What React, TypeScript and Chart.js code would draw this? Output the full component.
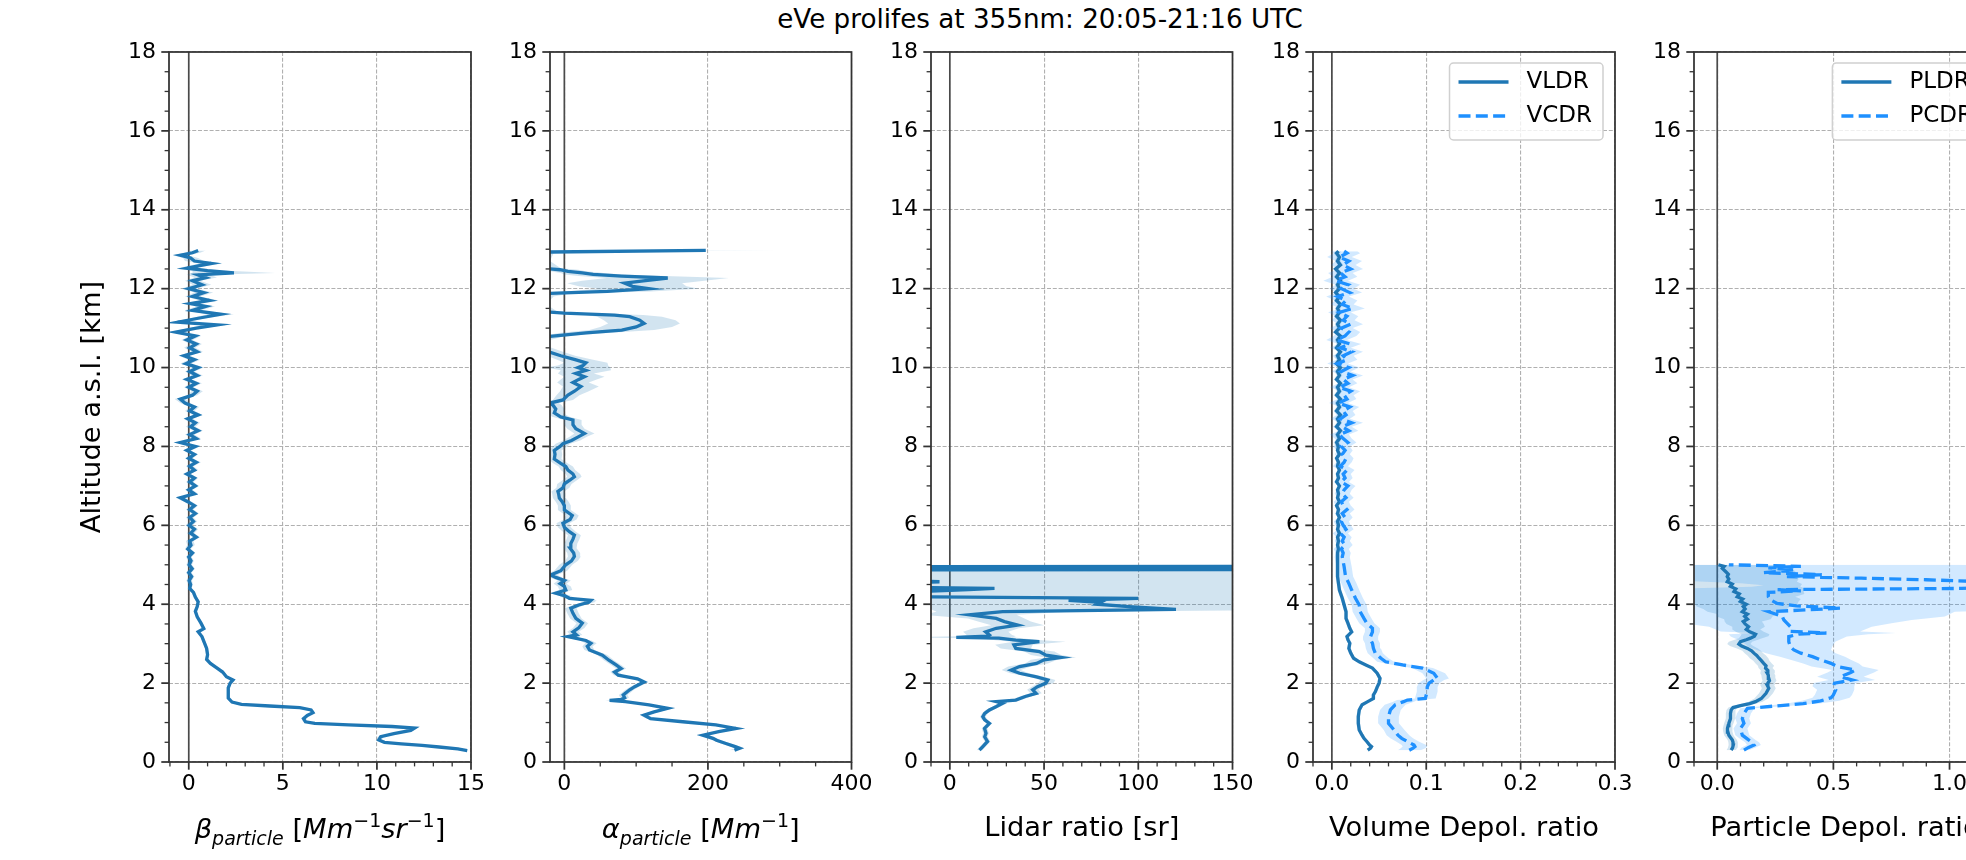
import React, { useEffect, useRef } from "react";
import { Chart, registerables } from "chart.js";

Chart.register(...registerables);

const FONT = '"DejaVu Sans", "Liberation Sans", sans-serif';

// ---------------- text ----------------
const FIG_TITLE = "eVe prolifes at 355nm: 20:05-21:16 UTC";
const Y_LABEL = "Altitude a.s.l. [km]";
const LR_LABEL = "Lidar ratio [sr]";
const VDR_LABEL = "Volume Depol. ratio";
const PDR_LABEL = "Particle Depol. ratio";
type Seg = { t: string; it?: boolean; sub?: boolean; sup?: boolean };
const BETA_LABEL: Seg[] = [
  { t: "β", it: true }, { t: "particle", it: true, sub: true }, { t: " [" },
  { t: "Mm", it: true }, { t: "−1", sup: true }, { t: "sr", it: true }, { t: "−1", sup: true }, { t: "]" },
];
const ALPHA_LABEL: Seg[] = [
  { t: "α", it: true }, { t: "particle", it: true, sub: true }, { t: " [" },
  { t: "Mm", it: true }, { t: "−1", sup: true }, { t: "]" },
];
const VDR_NAMES = ["VLDR", "VCDR"];
const PDR_NAMES = ["PLDR", "PCDR"];

// ---------------- ticks ----------------
const ALT_TICKS = [0, 2, 4, 6, 8, 10, 12, 14, 16, 18];
const ALT_TICK_LABELS = ["0", "2", "4", "6", "8", "10", "12", "14", "16", "18"];
const BETA_TICKS = [0, 5, 10, 15];
const BETA_TICK_LABELS = ["0", "5", "10", "15"];
const ALPHA_TICKS = [0, 200, 400];
const ALPHA_TICK_LABELS = ["0", "200", "400"];
const LR_TICKS = [0, 50, 100, 150];
const LR_TICK_LABELS = ["0", "50", "100", "150"];
const VDR_TICKS = [0, 0.1, 0.2, 0.3];
const VDR_TICK_LABELS = ["0.0", "0.1", "0.2", "0.3"];
const PDR_TICKS = [0, 0.5, 1.0];
const PDR_TICK_LABELS = ["0.0", "0.5", "1.0"];

// ---------------- data: rows of [altitude km, value, uncertainty] ----------------
const BETA: number[][] = [
  [0.29, 14.8, 0.15], [0.33, 14.3, 0.15], [0.38, 13.3, 0.15], [0.42, 12.4, 0.15], [0.46, 11.3, 0.15], [0.5, 10.4, 0.15],
  [0.56, 10.1, 0.15], [0.64, 10.2, 0.15], [0.72, 10.9, 0.15], [0.8, 11.8, 0.15], [0.86, 12.0, 0.15], [0.9, 10.8, 0.15],
  [0.94, 8.5, 0.15], [0.98, 6.7, 0.12], [1.02, 6.2, 0.12], [1.1, 6.1, 0.12], [1.18, 6.3, 0.12], [1.25, 6.6, 0.12],
  [1.32, 6.5, 0.12], [1.38, 5.9, 0.12], [1.42, 4.3, 0.1], [1.46, 2.8, 0.1], [1.52, 2.3, 0.1], [1.62, 2.1, 0.08],
  [1.75, 2.1, 0.08], [1.88, 2.1, 0.08], [2.0, 2.2, 0.08], [2.08, 2.35, 0.08], [2.16, 2.0, 0.08], [2.28, 1.8, 0.08],
  [2.4, 1.45, 0.08], [2.5, 1.15, 0.08], [2.6, 0.95, 0.08], [2.72, 1.0, 0.08], [2.88, 0.95, 0.08], [3.0, 0.85, 0.08],
  [3.18, 0.7, 0.08], [3.3, 0.5, 0.08], [3.38, 0.8, 0.08], [3.52, 0.65, 0.08], [3.68, 0.45, 0.08], [3.82, 0.35, 0.08],
  [3.94, 0.45, 0.08], [4.06, 0.5, 0.08], [4.18, 0.35, 0.1], [4.3, 0.25, 0.1], [4.4, 0.05, 0.1], [4.5, 0.1, 0.12],
  [4.6, 0.02, 0.15], [4.7, 0.15, 0.15], [4.8, 0.0, 0.15], [4.9, 0.18, 0.15], [5.0, 0.02, 0.15], [5.1, 0.12, 0.15],
  [5.2, 0.0, 0.15], [5.3, 0.2, 0.15], [5.4, -0.05, 0.15], [5.5, 0.12, 0.2], [5.6, 0.05, 0.2], [5.7, 0.4, 0.2],
  [5.8, 0.1, 0.2], [5.9, 0.3, 0.2], [6.0, 0.02, 0.2], [6.1, 0.25, 0.2], [6.2, 0.05, 0.2], [6.3, 0.35, 0.2],
  [6.4, 0.05, 0.2], [6.5, 0.3, 0.2], [6.6, -0.05, 0.2], [6.7, -0.45, 0.25], [6.8, 0.3, 0.2], [6.9, 0.0, 0.2],
  [7.0, 0.35, 0.2], [7.1, 0.05, 0.2], [7.2, 0.3, 0.2], [7.3, -0.1, 0.2], [7.4, 0.3, 0.2], [7.5, 0.05, 0.2],
  [7.6, 0.4, 0.25], [7.7, 0.0, 0.2], [7.8, 0.3, 0.2], [7.9, -0.1, 0.2], [8.0, 0.35, 0.25], [8.1, -0.45, 0.25],
  [8.2, 0.4, 0.25], [8.3, 0.05, 0.25], [8.4, 0.5, 0.25], [8.5, 0.1, 0.25], [8.6, 0.35, 0.25], [8.7, -0.05, 0.25],
  [8.8, 0.5, 0.25], [8.9, 0.05, 0.25], [9.0, 0.3, 0.25], [9.1, -0.2, 0.25], [9.2, -0.45, 0.3], [9.3, 0.2, 0.25],
  [9.4, 0.45, 0.3], [9.5, 0.0, 0.25], [9.6, 0.4, 0.3], [9.7, -0.1, 0.25], [9.8, 0.45, 0.3], [9.9, 0.05, 0.25],
  [10.0, 0.5, 0.3], [10.1, -0.15, 0.3], [10.2, 0.3, 0.3], [10.3, -0.25, 0.3], [10.4, 0.45, 0.3], [10.5, 0.05, 0.3],
  [10.6, 0.4, 0.3], [10.7, -0.1, 0.3], [10.8, 0.35, 0.3], [10.9, -0.7, 0.35], [11.0, 0.4, 0.35], [11.08, 1.5, 0.5],
  [11.15, -0.6, 0.4], [11.25, 0.5, 0.4], [11.35, 1.7, 0.7], [11.45, 0.2, 0.4], [11.55, 0.9, 0.5], [11.62, 0.1, 0.4],
  [11.7, 1.1, 0.5], [11.8, 0.2, 0.4], [11.9, 0.8, 0.5], [12.0, 0.0, 0.4], [12.1, 0.7, 0.5], [12.2, 0.2, 0.4],
  [12.28, 0.9, 0.6], [12.35, 0.5, 0.6], [12.4, 2.4, 2.2], [12.46, 1.0, 0.8], [12.52, -0.1, 0.5], [12.58, 0.5, 0.5],
  [12.64, 1.2, 0.6], [12.7, 0.3, 0.5], [12.78, 0.1, 0.4], [12.85, -0.45, 0.4], [12.91, 0.2, 0.4], [12.97, 0.5, 0.4],
];

const ALPHA: number[][] = [
  [0.3, 237, 7], [0.35, 244, 7], [0.39, 238, 7], [0.47, 225, 7], [0.55, 212, 6], [0.6, 207, 6], [0.68, 193, 6],
  [0.77, 215, 6], [0.85, 239, 6], [0.94, 211, 6], [1.02, 165, 6], [1.1, 120, 6], [1.19, 111, 6], [1.27, 125, 6],
  [1.36, 144, 8], [1.45, 118, 6], [1.53, 85, 6], [1.56, 63, 6], [1.59, 80, 6], [1.63, 84, 6], [1.7, 82, 6],
  [1.83, 91, 6], [1.91, 98, 6], [2.03, 111, 6], [2.11, 102, 6], [2.2, 75, 6], [2.28, 70, 6], [2.37, 79, 7],
  [2.46, 72, 7], [2.58, 62, 7], [2.71, 53, 7], [2.84, 35, 7], [2.93, 32, 7], [3.01, 37, 8], [3.08, 30, 8],
  [3.14, 15, 8], [3.18, 5, 8], [3.22, 17, 8], [3.3, 12, 8], [3.4, 20, 8], [3.52, 25, 8], [3.64, 16, 8],
  [3.77, 12, 8], [3.9, 9, 8], [3.98, 20, 8], [4.05, 34, 8], [4.1, 37, 8], [4.15, 7, 8], [4.22, 0, 8],
  [4.28, -12, 9], [4.36, 2, 9], [4.45, 0, 9], [4.52, -6, 9], [4.6, 0, 9], [4.68, -12, 9], [4.74, -19, 9],
  [4.85, -5, 9], [5.0, 2, 9], [5.1, 10, 9], [5.21, 14, 9], [5.3, 13, 9], [5.42, 8, 9], [5.54, 9, 9],
  [5.65, 12, 9], [5.75, 14, 9], [5.84, 7, 9], [5.95, 0, 9], [6.05, -2, 9], [6.15, 8, 9], [6.25, 11, 9],
  [6.39, 0, 9], [6.5, 0, 9], [6.6, -3, 9], [6.69, -7, 9], [6.8, -8, 9], [6.86, -9, 9], [6.95, -2, 9],
  [7.05, 0, 10], [7.15, 8, 10], [7.23, 14, 10], [7.3, 12, 10], [7.4, 5, 10], [7.49, 2, 10], [7.57, -5, 10],
  [7.68, -14, 10], [7.8, -13, 10], [7.9, -14, 10], [8.0, -6, 10], [8.07, -2, 10], [8.15, 10, 12], [8.25, 20, 12],
  [8.33, 28, 14], [8.45, 16, 12], [8.55, 12, 12], [8.67, 12, 12], [8.75, -5, 12], [8.85, -14, 12], [8.95, -12, 12],
  [9.05, -16, 12], [9.1, -20, 12], [9.18, -2, 14], [9.3, 5, 16], [9.4, 14, 20], [9.52, 23, 25], [9.62, 12, 22],
  [9.7, 20, 25], [9.77, 28, 28], [9.85, 16, 25], [9.93, 30, 35], [10.0, 19, 45], [10.05, 26, 35], [10.12, 30, 30],
  [10.2, 15, 25], [10.3, -5, 20], [10.4, -22, 20], [10.55, -45, 20], [10.7, -40, 20], [10.79, -21, 20], [10.83, 2, 25],
  [10.88, 30, 35], [10.95, 80, 45], [11.03, 100, 50], [11.12, 111, 50], [11.2, 105, 50], [11.29, 91, 45], [11.33, 70, 40],
  [11.38, 0, 30], [11.42, -35, 25], [11.6, -50, 25], [11.8, -40, 25], [11.88, -21, 30], [11.93, 60, 60], [12.0, 118, 70],
  [12.06, 95, 75], [12.14, 84, 80], [12.2, 110, 85], [12.27, 144, 85], [12.32, 80, 60], [12.36, 40, 40], [12.4, 25, 30],
  [12.44, 5, 25], [12.48, -6, 25], [12.52, -30, 25], [12.7, -45, 25], [12.9, -40, 25], [12.93, -21, 30], [12.97, 197, 100],
];

const LIDAR_RATIO: number[][] = [
  [0.3, 15.7, 1.5], [0.39, 17.5, 1.5], [0.52, 20, 1.5], [0.64, 18.5, 1.5], [0.73, 19.2, 1.5], [0.85, 18.4, 1.5],
  [0.98, 21, 1.5], [1.07, 18.5, 1.5], [1.15, 17.5, 1.5], [1.23, 18.5, 1.5], [1.32, 21, 2], [1.4, 24.5, 2],
  [1.49, 28, 2.5], [1.53, 24.6, 3], [1.57, 35, 3], [1.66, 40, 3], [1.74, 45.8, 3], [1.83, 44, 3],
  [1.91, 46.5, 3], [2.0, 51, 4], [2.08, 52, 4], [2.16, 46, 4], [2.25, 37, 5], [2.33, 32.5, 5],
  [2.42, 37, 6], [2.5, 46, 6], [2.59, 50, 7], [2.65, 59, 8], [2.71, 51, 8], [2.8, 47.5, 8],
  [2.88, 35, 8], [2.97, 34, 10], [3.05, 47.5, 14], [3.09, 35, 12], [3.14, 26, 12], [3.16, 3.4, 30],
  [3.19, 20, 15], [3.22, 21, 12], [3.3, 19, 12], [3.39, 24.6, 12], [3.47, 36, 14], [3.56, 29, 14],
  [3.64, 24.6, 15], [3.73, 10.4, 25], [3.81, 28, 35], [3.87, 120, 130], [3.94, 95, 120], [4.0, 78, 100],
  [4.05, 80, 100], [4.1, 63, 100], [4.15, 100, 150], [4.19, -20, 500], [4.3, -30, 500], [4.37, 10, 500],
  [4.4, 23.7, 500], [4.43, -25, 500], [4.55, -20, 500], [4.57, -5.5, 500], [4.62, -30, 500], [4.8, -40, 500],
  [4.87, -40, 500], [4.89, 400, 500], [4.93, 400, 500], [4.95, -40, 500], [4.97, 400, 500], [5.0, 400, 500],
];

const VLDR: number[][] = [
  [0.3, 0.038, 0.002], [0.35, 0.041, 0.002], [0.39, 0.042, 0.002], [0.43, 0.04, 0.002], [0.52, 0.037, 0.002],
  [0.6, 0.034, 0.002], [0.68, 0.032, 0.002], [0.81, 0.029, 0.002], [0.98, 0.028, 0.002], [1.15, 0.028, 0.002],
  [1.32, 0.029, 0.002], [1.45, 0.032, 0.002], [1.53, 0.038, 0.002], [1.61, 0.044, 0.002], [1.7, 0.044, 0.002],
  [1.78, 0.046, 0.002], [1.9, 0.048, 0.002], [2.0, 0.05, 0.002], [2.12, 0.051, 0.002], [2.25, 0.048, 0.002],
  [2.38, 0.043, 0.002], [2.46, 0.036, 0.002], [2.54, 0.029, 0.002], [2.63, 0.023, 0.002], [2.76, 0.02, 0.002],
  [2.88, 0.018, 0.002], [3.01, 0.019, 0.002], [3.1, 0.017, 0.002], [3.18, 0.016, 0.002], [3.3, 0.021, 0.002],
  [3.39, 0.019, 0.002], [3.52, 0.017, 0.002], [3.64, 0.015, 0.002], [3.81, 0.015, 0.002], [3.98, 0.013, 0.002],
  [4.15, 0.011, 0.002], [4.36, 0.008, 0.002], [4.53, 0.007, 0.002], [4.7, 0.006, 0.002], [4.95, 0.006, 0.002],
  [5.2, 0.006, 0.002], [5.3, 0.006, 0.002], [5.4, 0.007, 0.002], [5.5, 0.006, 0.002], [5.6, 0.007, 0.002],
  [5.7, 0.006, 0.002], [5.8, 0.008, 0.002], [5.9, 0.006, 0.002], [6.0, 0.007, 0.002], [6.1, 0.006, 0.002],
  [6.2, 0.008, 0.002], [6.3, 0.006, 0.002], [6.4, 0.007, 0.002], [6.5, 0.005, 0.002], [6.6, 0.008, 0.002],
  [6.7, 0.006, 0.002], [6.8, 0.007, 0.002], [6.9, 0.006, 0.002], [7.0, 0.008, 0.002], [7.1, 0.005, 0.002],
  [7.2, 0.007, 0.002], [7.3, 0.006, 0.002], [7.4, 0.008, 0.002], [7.5, 0.006, 0.002], [7.6, 0.007, 0.002],
  [7.7, 0.005, 0.002], [7.8, 0.008, 0.002], [7.9, 0.006, 0.002], [8.0, 0.007, 0.003], [8.1, 0.005, 0.003],
  [8.2, 0.008, 0.003], [8.3, 0.006, 0.003], [8.4, 0.009, 0.003], [8.5, 0.005, 0.003], [8.6, 0.008, 0.003],
  [8.7, 0.006, 0.003], [8.8, 0.009, 0.003], [8.9, 0.005, 0.003], [9.0, 0.008, 0.003], [9.1, 0.006, 0.003],
  [9.2, 0.009, 0.003], [9.3, 0.005, 0.003], [9.4, 0.008, 0.003], [9.5, 0.006, 0.003], [9.6, 0.009, 0.003],
  [9.7, 0.005, 0.003], [9.8, 0.008, 0.003], [9.9, 0.006, 0.003], [10.0, 0.009, 0.003], [10.1, 0.005, 0.003],
  [10.2, 0.008, 0.003], [10.3, 0.006, 0.003], [10.4, 0.009, 0.003], [10.5, 0.005, 0.003], [10.6, 0.008, 0.003],
  [10.7, 0.006, 0.003], [10.8, 0.009, 0.003], [10.9, 0.004, 0.003], [11.0, 0.008, 0.003], [11.1, 0.006, 0.003],
  [11.2, 0.009, 0.003], [11.3, 0.005, 0.003], [11.4, 0.008, 0.003], [11.5, 0.006, 0.003], [11.6, 0.009, 0.003],
  [11.7, 0.005, 0.003], [11.8, 0.008, 0.003], [11.9, 0.004, 0.003], [12.0, 0.008, 0.003], [12.1, 0.006, 0.003],
  [12.2, 0.009, 0.003], [12.3, 0.005, 0.003], [12.4, 0.008, 0.003], [12.5, 0.004, 0.003], [12.6, 0.009, 0.003],
  [12.7, 0.006, 0.003], [12.8, 0.008, 0.003], [12.9, 0.005, 0.003], [12.95, 0.007, 0.003],
];

const VCDR: number[][] = [
  [0.3, 0.082, 0.012], [0.35, 0.086, 0.013], [0.39, 0.088, 0.013], [0.43, 0.087, 0.013], [0.52, 0.08, 0.012],
  [0.6, 0.074, 0.012], [0.68, 0.07, 0.012], [0.81, 0.066, 0.011], [0.98, 0.06, 0.011], [1.15, 0.06, 0.011],
  [1.32, 0.062, 0.011], [1.45, 0.067, 0.011], [1.53, 0.076, 0.011], [1.57, 0.08, 0.011], [1.61, 0.099, 0.011],
  [1.7, 0.1, 0.011], [1.78, 0.101, 0.011], [1.9, 0.101, 0.011], [2.0, 0.103, 0.011], [2.08, 0.108, 0.011],
  [2.12, 0.112, 0.012], [2.25, 0.108, 0.012], [2.38, 0.096, 0.011], [2.46, 0.075, 0.01], [2.54, 0.057, 0.009],
  [2.63, 0.052, 0.008], [2.76, 0.046, 0.008], [2.88, 0.044, 0.008], [3.01, 0.043, 0.008], [3.1, 0.041, 0.008],
  [3.18, 0.041, 0.008], [3.3, 0.043, 0.008], [3.39, 0.043, 0.008], [3.52, 0.037, 0.008], [3.64, 0.034, 0.008],
  [3.81, 0.03, 0.008], [3.98, 0.029, 0.008], [4.15, 0.025, 0.008], [4.36, 0.021, 0.008], [4.53, 0.018, 0.008],
  [4.7, 0.0145, 0.008], [4.95, 0.013, 0.008], [5.2, 0.011, 0.008], [5.3, 0.012, 0.008], [5.4, 0.01, 0.008],
  [5.5, 0.014, 0.008], [5.6, 0.011, 0.008], [5.7, 0.013, 0.008], [5.8, 0.009, 0.008], [5.9, 0.015, 0.008],
  [6.0, 0.012, 0.008], [6.1, 0.01, 0.008], [6.2, 0.014, 0.008], [6.3, 0.011, 0.008], [6.4, 0.016, 0.008],
  [6.5, 0.012, 0.008], [6.6, 0.01, 0.008], [6.7, 0.015, 0.008], [6.8, 0.011, 0.008], [6.9, 0.013, 0.008],
  [7.0, 0.017, 0.008], [7.1, 0.01, 0.008], [7.2, 0.014, 0.008], [7.3, 0.012, 0.008], [7.4, 0.016, 0.008],
  [7.5, 0.009, 0.008], [7.6, 0.013, 0.008], [7.7, 0.015, 0.008], [7.8, 0.011, 0.008], [7.9, 0.014, 0.008],
  [8.0, 0.01, 0.009], [8.1, 0.017, 0.009], [8.2, 0.012, 0.009], [8.3, 0.008, 0.01], [8.4, 0.018, 0.01],
  [8.5, 0.011, 0.01], [8.6, 0.021, 0.012], [8.7, 0.009, 0.01], [8.8, 0.015, 0.01], [8.9, 0.012, 0.01],
  [9.0, 0.019, 0.01], [9.1, 0.007, 0.01], [9.2, 0.016, 0.01], [9.3, 0.013, 0.01], [9.4, 0.02, 0.01],
  [9.5, 0.008, 0.01], [9.6, 0.017, 0.01], [9.7, 0.012, 0.01], [9.8, 0.022, 0.011], [9.9, 0.01, 0.01],
  [10.0, 0.018, 0.011], [10.1, 0.006, 0.011], [10.2, 0.016, 0.011], [10.3, 0.012, 0.011], [10.4, 0.021, 0.012],
  [10.5, 0.009, 0.011], [10.6, 0.019, 0.012], [10.7, 0.005, 0.011], [10.8, 0.014, 0.012], [10.9, 0.018, 0.012],
  [11.0, 0.01, 0.012], [11.1, 0.02, 0.013], [11.2, 0.012, 0.012], [11.3, 0.016, 0.012], [11.4, 0.008, 0.012],
  [11.5, 0.022, 0.013], [11.6, 0.011, 0.012], [11.7, 0.015, 0.012], [11.8, 0.006, 0.012], [11.9, 0.019, 0.013],
  [12.0, 0.01, 0.013], [12.1, 0.017, 0.013], [12.2, 0.004, 0.013], [12.3, 0.014, 0.013], [12.4, 0.009, 0.013],
  [12.5, 0.02, 0.013], [12.6, 0.012, 0.013], [12.7, 0.018, 0.014], [12.8, 0.008, 0.013], [12.9, 0.016, 0.014],
  [12.95, 0.013, 0.014],
];

const PLDR: number[][] = [
  [0.3, 0.06, 0.02], [0.36, 0.066, 0.02], [0.43, 0.069, 0.02], [0.5, 0.068, 0.02], [0.56, 0.065, 0.02],
  [0.62, 0.057, 0.02], [0.68, 0.05, 0.02], [0.76, 0.046, 0.02], [0.85, 0.044, 0.02], [0.92, 0.047, 0.02],
  [0.98, 0.05, 0.02], [1.1, 0.057, 0.02], [1.23, 0.057, 0.02], [1.32, 0.06, 0.02], [1.38, 0.068, 0.02],
  [1.43, 0.1, 0.025], [1.48, 0.14, 0.03], [1.53, 0.165, 0.03], [1.61, 0.19, 0.03], [1.74, 0.21, 0.03],
  [1.87, 0.222, 0.03], [1.95, 0.215, 0.03], [2.0, 0.218, 0.03], [2.06, 0.225, 0.03], [2.12, 0.222, 0.03],
  [2.2, 0.22, 0.03], [2.25, 0.215, 0.03], [2.32, 0.218, 0.03], [2.38, 0.208, 0.03], [2.44, 0.21, 0.035],
  [2.5, 0.2, 0.035], [2.57, 0.19, 0.035], [2.63, 0.18, 0.04], [2.7, 0.17, 0.04], [2.76, 0.158, 0.04],
  [2.82, 0.148, 0.04], [2.88, 0.13, 0.045], [2.94, 0.105, 0.05], [2.99, 0.093, 0.05], [3.05, 0.1, 0.05],
  [3.1, 0.125, 0.05], [3.14, 0.143, 0.05], [3.19, 0.16, 0.06], [3.24, 0.165, 0.06], [3.3, 0.14, 0.06],
  [3.36, 0.125, 0.06], [3.43, 0.135, 0.07], [3.5, 0.12, 0.08], [3.56, 0.112, 0.08], [3.62, 0.13, 0.1],
  [3.69, 0.118, 0.12], [3.75, 0.13, 0.13], [3.81, 0.108, 0.15], [3.88, 0.12, 0.18], [3.94, 0.112, 0.2],
  [4.0, 0.125, 0.22], [4.07, 0.1, 0.25], [4.13, 0.11, 0.25], [4.19, 0.086, 0.25], [4.26, 0.095, 0.28],
  [4.32, 0.072, 0.3], [4.39, 0.08, 0.3], [4.45, 0.057, 0.3], [4.51, 0.065, 0.3], [4.57, 0.043, 0.3],
  [4.64, 0.05, 0.3], [4.7, 0.043, 0.3], [4.76, 0.048, 0.3], [4.83, 0.036, 0.3], [4.91, 0.022, 0.3],
  [4.96, 0.03, 0.3], [5.0, 0.005, 0.3],
];

const PCDR: number[][] = [
  [0.3, 0.115, 0.02], [0.37, 0.135, 0.03], [0.43, 0.158, 0.03], [0.5, 0.15, 0.03], [0.56, 0.135, 0.03],
  [0.68, 0.108, 0.03], [0.85, 0.1, 0.03], [0.98, 0.115, 0.03], [1.1, 0.108, 0.03], [1.23, 0.115, 0.03],
  [1.36, 0.13, 0.03], [1.42, 0.25, 0.05], [1.48, 0.37, 0.07], [1.55, 0.445, 0.08], [1.63, 0.49, 0.08],
  [1.7, 0.5, 0.08], [1.83, 0.51, 0.08], [1.92, 0.5, 0.09], [2.0, 0.505, 0.09], [2.08, 0.58, 0.1],
  [2.16, 0.53, 0.1], [2.27, 0.575, 0.1], [2.33, 0.595, 0.1], [2.42, 0.516, 0.11], [2.5, 0.49, 0.12],
  [2.59, 0.445, 0.13], [2.67, 0.41, 0.14], [2.76, 0.36, 0.15], [2.84, 0.33, 0.16], [2.92, 0.315, 0.18],
  [3.05, 0.308, 0.2], [3.18, 0.308, 0.25], [3.24, 0.35, 0.3], [3.27, 0.47, 0.3], [3.31, 0.315, 0.3],
  [3.43, 0.315, 0.35], [3.52, 0.3, 0.45], [3.6, 0.287, 0.55], [3.69, 0.28, 0.7], [3.81, 0.222, 0.8],
  [3.85, 0.36, 0.9], [3.9, 0.53, 1.0], [3.96, 0.34, 1.0], [4.02, 0.258, 1.0], [4.11, 0.23, 1.0],
  [4.19, 0.22, 1.0], [4.3, 0.22, 1.0], [4.34, 0.36, 1.0], [4.37, 0.26, 1.1], [4.4, 1.05, 1.2],
  [4.44, 1.35, 1.2], [4.48, 1.4, 1.2], [4.53, 1.3, 1.2], [4.58, 1.1, 1.2], [4.62, 0.9, 1.1],
  [4.66, 0.62, 1.1], [4.7, 0.3, 1.0], [4.75, 0.45, 1.0], [4.8, 0.2, 1.0], [4.87, 0.33, 1.0],
  [4.92, 0.22, 1.0], [4.96, 0.36, 1.0], [5.0, 0.05, 1.0],
];

// ---------------- styling ----------------
const TAB_BLUE = "#1f77b4";
const DODGER = "#1e90ff";
const TAB_BAND = "rgba(31,119,180,0.2)";
const DODGER_BAND = "rgba(30,144,255,0.2)";
const DASH = [12, 5.3];
const LINE_W = 3.3;
const AX_COLOR = "#333333";
const GRID_COLOR = "#b0b0b0";
const PANEL_W = 302;
const Y_AXIS_W = 169;
const PAD_R = 30;
const CANVAS_W = Y_AXIS_W + PANEL_W + PAD_R;
const CANVAS_H = 860;
const TOP = 52;
const X_AXIS_H = 98;

interface Series { rows: number[][]; color: string; band: string; dash?: number[]; name?: string }
interface PanelCfg {
  key: string; left: number; xMin: number; xMax: number; xTicks: number[]; xTickLabels: string[];
  xMinor: number; label?: string; math?: Seg[]; yTitle?: boolean; series: Series[]; legend?: boolean;
}

const PANELS: PanelCfg[] = [
  { key: "beta", left: 169, xMin: -1.05, xMax: 15, xTicks: BETA_TICKS, xTickLabels: BETA_TICK_LABELS, xMinor: 1,
    math: BETA_LABEL, yTitle: true, series: [{ rows: BETA, color: TAB_BLUE, band: TAB_BAND }] },
  { key: "alpha", left: 550, xMin: -20, xMax: 400, xTicks: ALPHA_TICKS, xTickLabels: ALPHA_TICK_LABELS, xMinor: 50,
    math: ALPHA_LABEL, series: [{ rows: ALPHA, color: TAB_BLUE, band: TAB_BAND }] },
  { key: "lr", left: 931, xMin: -10, xMax: 150, xTicks: LR_TICKS, xTickLabels: LR_TICK_LABELS, xMinor: 10,
    label: LR_LABEL, series: [{ rows: LIDAR_RATIO, color: TAB_BLUE, band: TAB_BAND }] },
  { key: "vdr", left: 1313, xMin: -0.02, xMax: 0.3, xTicks: VDR_TICKS, xTickLabels: VDR_TICK_LABELS, xMinor: 0.02,
    label: VDR_LABEL, legend: true, series: [
      { rows: VLDR, color: TAB_BLUE, band: TAB_BAND, name: VDR_NAMES[0] },
      { rows: VCDR, color: DODGER, band: DODGER_BAND, dash: DASH, name: VDR_NAMES[1] },
    ] },
  { key: "pdr", left: 1694, xMin: -0.1, xMax: 1.2, xTicks: PDR_TICKS, xTickLabels: PDR_TICK_LABELS, xMinor: 0.1,
    label: PDR_LABEL, legend: true, series: [
      { rows: PLDR, color: TAB_BLUE, band: TAB_BAND, name: PDR_NAMES[0] },
      { rows: PCDR, color: DODGER, band: DODGER_BAND, dash: DASH, name: PDR_NAMES[1] },
    ] },
];

function drawMath(ctx: CanvasRenderingContext2D, segs: Seg[], cx: number, baseY: number) {
  const big = 27.3, small = 19;
  const fontOf = (s: Seg) => `${s.it ? "italic " : ""}${s.sub || s.sup ? small : big}px ${FONT}`;
  const widths = segs.map((s) => { ctx.font = fontOf(s); return ctx.measureText(s.t).width; });
  const total = widths.reduce((a, b) => a + b, 0);
  let x = cx - total / 2;
  ctx.fillStyle = "#000";
  ctx.textAlign = "left";
  ctx.textBaseline = "alphabetic";
  segs.forEach((s, i) => {
    ctx.font = fontOf(s);
    const dy = s.sub ? 7 : s.sup ? -11 : 0;
    ctx.fillText(s.t, x, baseY + dy);
    x += widths[i];
  });
}

function drawLegend(ctx: CanvasRenderingContext2D, a: any, series: Series[]) {
  const fs = 23;
  ctx.font = `${fs}px ${FONT}`;
  const tw = Math.max(...series.map((s) => ctx.measureText(s.name || "").width));
  const padL = 9, handle = 50, gap = 18, padR = 11;
  const w = padL + handle + gap + tw + padR;
  const h = 77;
  const right = a.right - 12;
  const left = right - w;
  const top = a.top + 11;
  ctx.beginPath();
  (ctx as any).roundRect(left, top, w, h, 4);
  ctx.fillStyle = "rgba(255,255,255,0.8)";
  ctx.fill();
  ctx.strokeStyle = "#d0d0d0";
  ctx.lineWidth = 1.5;
  ctx.stroke();
  series.forEach((s, i) => {
    const cy = top + 19 + i * 34;
    ctx.beginPath();
    ctx.setLineDash(s.dash || []);
    ctx.strokeStyle = s.color;
    ctx.lineWidth = LINE_W;
    ctx.moveTo(left + padL, cy);
    ctx.lineTo(left + padL + handle, cy);
    ctx.stroke();
    ctx.setLineDash([]);
    ctx.fillStyle = "#000";
    ctx.textAlign = "left";
    ctx.textBaseline = "middle";
    ctx.font = `${fs}px ${FONT}`;
    ctx.fillText(s.name || "", left + padL + handle + gap, cy);
  });
}

function makePlugin(p: PanelCfg) {
  return {
    id: "mplAxes_" + p.key,
    beforeDatasetsDraw(chart: any) {
      const { ctx, chartArea: a } = chart;
      const px = chart.scales.x.getPixelForValue(0);
      ctx.save();
      ctx.strokeStyle = "#4a4a4a";
      ctx.lineWidth = 1.7;
      ctx.beginPath();
      ctx.moveTo(px, a.top);
      ctx.lineTo(px, a.bottom);
      ctx.stroke();
      ctx.restore();
    },
    afterDraw(chart: any) {
      const { ctx, chartArea: a } = chart;
      const xs = chart.scales.x, ys = chart.scales.y;
      ctx.save();
      ctx.setLineDash([]);
      ctx.strokeStyle = AX_COLOR;
      ctx.lineWidth = 1.76;
      ctx.strokeRect(a.left, a.top, a.right - a.left, a.bottom - a.top);
      const seg = (x1: number, y1: number, x2: number, y2: number, w: number) => {
        ctx.lineWidth = w;
        ctx.beginPath();
        ctx.moveTo(x1, y1);
        ctx.lineTo(x2, y2);
        ctx.stroke();
      };
      const isMajor = (v: number, majors: number[]) => majors.some((m) => Math.abs(m - v) < 1e-9);
      // x ticks
      for (let k = Math.ceil(p.xMin / p.xMinor - 1e-9); k * p.xMinor <= p.xMax + 1e-9; k++) {
        const v = k * p.xMinor;
        if (isMajor(v, p.xTicks)) continue;
        const px = xs.getPixelForValue(v);
        seg(px, a.bottom, px, a.bottom + 4.4, 1.3);
      }
      p.xTicks.forEach((v) => { const px = xs.getPixelForValue(v); seg(px, a.bottom, px, a.bottom + 7.7, 1.76); });
      // y ticks
      for (let k = 0; k * 0.5 <= 18 + 1e-9; k++) {
        const v = k * 0.5;
        if (isMajor(v, ALT_TICKS)) continue;
        const py = ys.getPixelForValue(v);
        seg(a.left, py, a.left - 4.4, py, 1.3);
      }
      ALT_TICKS.forEach((v) => { const py = ys.getPixelForValue(v); seg(a.left, py, a.left - 7.7, py, 1.76); });
      if (p.legend) drawLegend(ctx, a, p.series);
      if (p.math) drawMath(ctx, p.math, (a.left + a.right) / 2, a.bottom + 76);
      ctx.restore();
    },
  };
}

function buildConfig(p: PanelCfg): any {
  const datasets: any[] = [];
  const push = (d: any) => { d.order = -datasets.length; datasets.push(d); };
  p.series.forEach((s) => {
    push({ data: s.rows.map((r) => ({ x: r[1] - r[2], y: r[0] })), borderColor: "rgba(0,0,0,0)", borderWidth: 0,
      backgroundColor: s.band, fill: false, pointRadius: 0 });
    push({ data: s.rows.map((r) => ({ x: r[1] + r[2], y: r[0] })), borderColor: "rgba(0,0,0,0)", borderWidth: 0,
      backgroundColor: s.band, fill: "-1", pointRadius: 0 });
  });
  p.series.forEach((s) => {
    push({ label: s.name || p.key, data: s.rows.map((r) => ({ x: r[1], y: r[0] })), borderColor: s.color,
      backgroundColor: s.color, borderWidth: LINE_W, borderDash: s.dash || [], fill: false, pointRadius: 0 });
  });
  const tickFont = { size: 22, family: FONT };
  return {
    type: "line",
    data: { datasets },
    plugins: [makePlugin(p)],
    options: {
      responsive: false,
      animation: false,
      devicePixelRatio: 1,
      indexAxis: "y",
      events: [],
      layout: { padding: { left: 0, right: PAD_R, top: TOP, bottom: 0 } },
      plugins: { legend: { display: false }, tooltip: { enabled: false }, title: { display: false } },
      elements: { point: { radius: 0 }, line: { tension: 0 } },
      scales: {
        x: {
          type: "linear", position: "bottom", min: p.xMin, max: p.xMax,
          afterBuildTicks: (s: any) => { s.ticks = p.xTicks.map((v) => ({ value: v })); },
          afterFit: (s: any) => { s.height = X_AXIS_H; },
          ticks: { autoSkip: false, maxRotation: 0, minRotation: 0, padding: 9.5, color: "#000", font: tickFont,
            callback: (_v: any, i: number) => p.xTickLabels[i] },
          grid: { color: GRID_COLOR, lineWidth: 1.1, drawTicks: false },
          border: { display: false, dash: [4, 1.8] },
          title: { display: !!p.label, text: p.label || "", color: "#000", font: { size: 27.3, family: FONT },
            padding: { top: 0, bottom: 15 } },
        },
        y: {
          type: "linear", position: "left", min: 0, max: 18,
          afterBuildTicks: (s: any) => { s.ticks = ALT_TICKS.map((v) => ({ value: v })); },
          afterFit: (s: any) => { s.width = Y_AXIS_W; },
          ticks: { autoSkip: false, padding: 13, color: "#000", font: tickFont,
            callback: (_v: any, i: number) => ALT_TICK_LABELS[i] },
          grid: { color: GRID_COLOR, lineWidth: 1.1, drawTicks: false },
          border: { display: false, dash: [4, 1.8] },
          title: { display: !!p.yTitle, text: Y_LABEL, color: "#000", font: { size: 27.3, family: FONT },
            padding: { top: 77, bottom: 0 } },
        },
      },
    },
  };
}

function Panel({ p }: { p: PanelCfg }) {
  const ref = useRef<HTMLCanvasElement>(null);
  useEffect(() => {
    if (!ref.current) return;
    const chart = new Chart(ref.current, buildConfig(p));
    return () => chart.destroy();
  }, [p]);
  return (
    <canvas
      ref={ref}
      width={CANVAS_W}
      height={CANVAS_H}
      style={{ position: "absolute", left: p.left - Y_AXIS_W, top: 0, width: CANVAS_W, height: CANVAS_H }}
    />
  );
}

export default function App() {
  return (
    <div style={{ position: "fixed", left: 0, top: 0, width: 1966, height: 860, overflow: "hidden", background: "#fff" }}>
      <div
        style={{
          position: "absolute", left: 0, top: 4, width: 2080, textAlign: "center",
          fontFamily: FONT, fontSize: 26.2, lineHeight: "30px", color: "#000", whiteSpace: "nowrap",
        }}
      >
        {FIG_TITLE}
      </div>
      {PANELS.map((p) => (
        <Panel key={p.key} p={p} />
      ))}
    </div>
  );
}
